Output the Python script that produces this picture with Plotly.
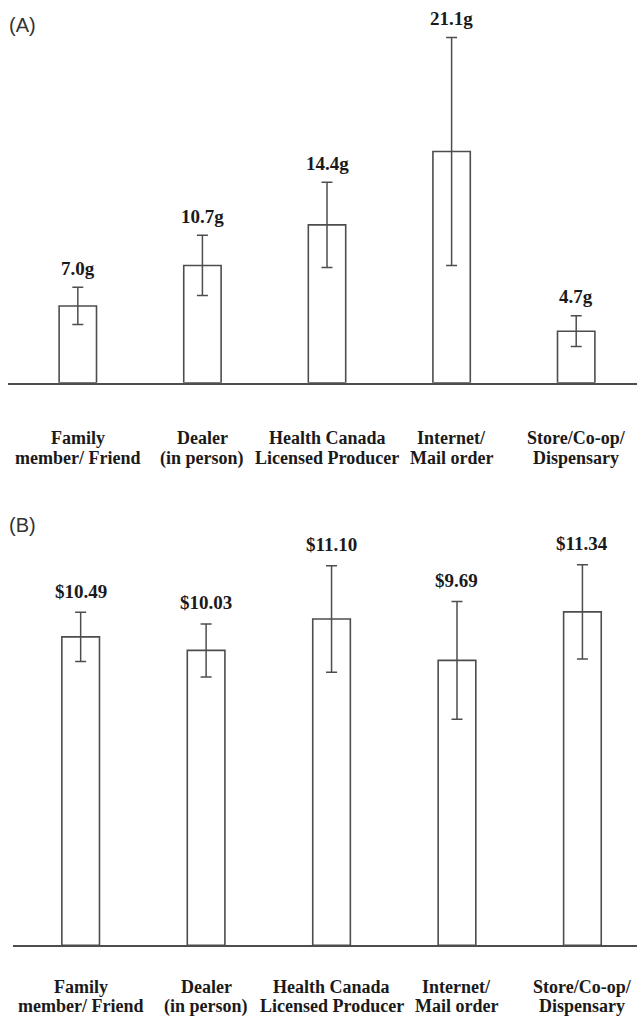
import plotly.graph_objects as go

# ---- data ----
cat_line1 = ["Family", "Dealer", "Health Canada", "Internet/", "Store/Co-op/"]
cat_line2 = ["member/ Friend", "(in person)", "Licensed Producer", "Mail order", "Dispensary"]
categories = [a + " " + b for a, b in zip(cat_line1, cat_line2)]

grams = [7.0, 10.7, 14.4, 21.1, 4.7]
grams_err = [1.7, 2.75, 3.9, 10.4, 1.4]

price = [10.49, 10.03, 11.10, 9.69, 11.34]
price_err = [0.84, 0.90, 1.81, 2.00, 1.60]

gram_labels = [f"{v:.1f}g" for v in grams]
price_labels = [f"${v:.2f}" for v in price]

# ---- layout constants ----
W, H = 637, 1017
line_col = "#4d4d4d"
txt_col = "#1a1a1a"
serif = "Liberation Serif, Times New Roman, serif"
sans = "Liberation Sans, Arial, sans-serif"


def py(px):
    return 1 - px / H


fig = go.Figure()

bar_style = dict(
    marker=dict(color="white", line=dict(color=line_col, width=1.6)),
    width=0.3,
    showlegend=False,
    hoverinfo="skip",
)

fig.add_trace(go.Bar(
    x=categories, y=grams,
    error_y=dict(type="data", array=grams_err, visible=True,
                 color=line_col, thickness=1.5, width=5.5),
    xaxis="x", yaxis="y", **bar_style))

fig.add_trace(go.Bar(
    x=categories, y=price,
    error_y=dict(type="data", array=price_err, visible=True,
                 color=line_col, thickness=1.5, width=5.5),
    xaxis="x2", yaxis="y2", **bar_style))

xcommon = dict(showline=True, linecolor=line_col, linewidth=2, showgrid=False,
               zeroline=False, showticklabels=False, ticks="", fixedrange=True,
               type="category")
ycommon = dict(visible=False, showgrid=False, zeroline=False, fixedrange=True)

# Panel A: baseline at 382.7px, ~10.96 px per gram
a_top, a_base = 30, 382.7
a_scale = 10.96
# Panel B: baseline at 945.3px, ~29.4 px per dollar
b_top, b_base = 540, 945.3
b_scale = 29.4

fig.update_layout(
    width=W, height=H,
    margin=dict(l=0, r=0, t=0, b=0),
    paper_bgcolor="white", plot_bgcolor="white",
    bargap=0.7,
    xaxis=dict(domain=[8.3 / W, 1], anchor="y", range=[-0.558, 4.488], **xcommon),
    yaxis=dict(domain=[py(a_base), py(a_top)], anchor="x",
               range=[0, (a_base - a_top) / a_scale], **ycommon),
    xaxis2=dict(domain=[13.3 / W, 1], anchor="y2", range=[-0.537, 4.435], **xcommon),
    yaxis2=dict(domain=[py(b_base), py(b_top)], anchor="x2",
                range=[0, (b_base - b_top) / b_scale], **ycommon),
)

ann = []
# value labels
for c, v, e, t in zip(categories, grams, grams_err, gram_labels):
    ann.append(dict(x=c, y=v + e, xref="x", yref="y", text=f"<b>{t}</b>",
                    showarrow=False, yanchor="middle", yshift=19,
                    font=dict(family=serif, size=19, color=txt_col)))
for c, v, e, t in zip(categories, price, price_err, price_labels):
    ann.append(dict(x=c, y=v + e, xref="x2", yref="y2", text=f"<b>{t}</b>",
                    showarrow=False, yanchor="middle", yshift=21,
                    font=dict(family=serif, size=19, color=txt_col)))

# category labels (two lines each)
for xr, yr, s1, s2 in [("x", "y domain", -55.6, -75.6), ("x2", "y2 domain", -42.0, -61.0)]:
    for c, l1, l2 in zip(categories, cat_line1, cat_line2):
        ann.append(dict(x=c, y=0, xref=xr, yref=yr, text=f"<b>{l1}</b>",
                        showarrow=False, yanchor="middle", yshift=s1, borderpad=0,
                        font=dict(family=serif, size=18, color=txt_col)))
        ann.append(dict(x=c, y=0, xref=xr, yref=yr, text=f"<b>{l2}</b>",
                        showarrow=False, yanchor="middle", yshift=s2, borderpad=0,
                        font=dict(family=serif, size=18, color=txt_col)))

# panel tags
ann.append(dict(x=7 / W, y=py(25), xref="paper", yref="paper", text="(A)",
                showarrow=False, xanchor="left", yanchor="middle",
                font=dict(family=sans, size=20, color="#333333")))
ann.append(dict(x=7 / W, y=py(525), xref="paper", yref="paper", text="(B)",
                showarrow=False, xanchor="left", yanchor="middle",
                font=dict(family=sans, size=20, color="#333333")))

fig.update_layout(annotations=ann)

fig.write_html(
    "out.html",
    config={"displayModeBar": False, "staticPlot": True},
    post_script="document.body.style.margin='0';document.body.style.overflow='hidden';",
)
